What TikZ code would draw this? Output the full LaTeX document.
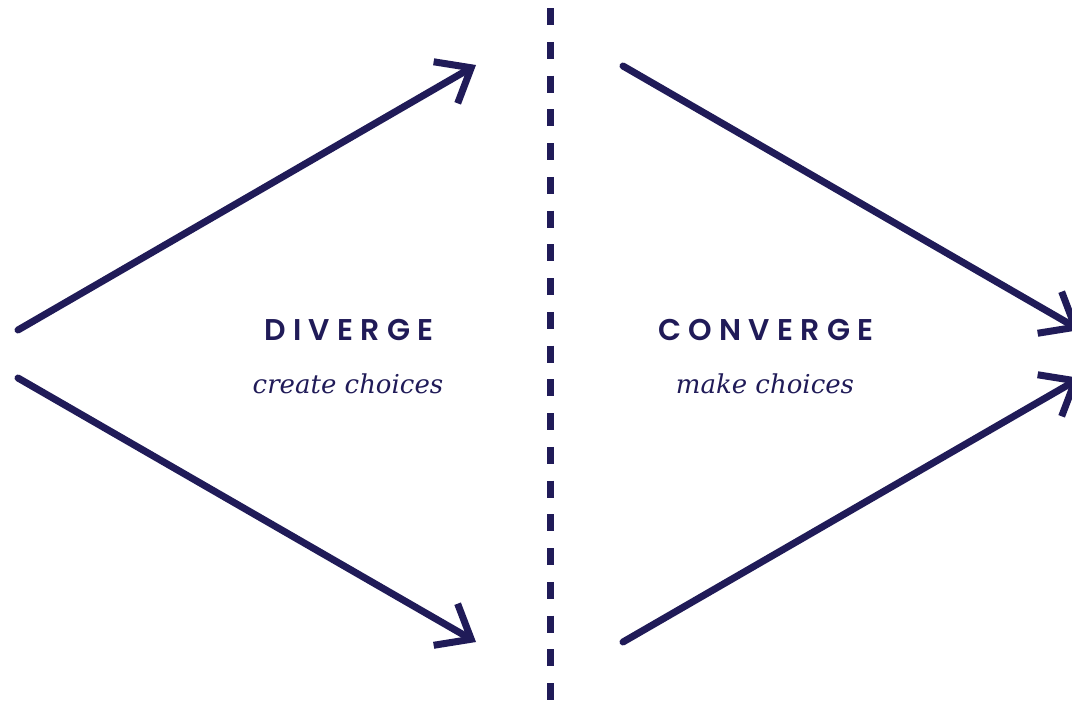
\documentclass[tikz,border=0pt]{standalone}
\usepackage{fontspec}
\usetikzlibrary{arrows.meta}
\newfontfamily\capsfont[LetterSpace=24]{Poppins SemiBold}
\newfontfamily\subfont{DejaVu Serif}
\definecolor{navy}{RGB}{32,27,88}
\begin{document}
\begin{tikzpicture}[x=1pt,y=-1pt,
  arr/.style={draw=navy, line width=7pt, line cap=round,
    -{Straight Barb[length=29.5pt,width=48pt,sharp]}},
  divider/.style={draw=navy, line width=7pt, line cap=butt, dash pattern=on 17pt off 16.75pt},
  title/.style={anchor=base, text=navy, inner sep=0pt, font=\capsfont\fontsize{30}{30}\selectfont},
  sub/.style={anchor=base, text=navy, inner sep=0pt, font=\subfont\itshape\fontsize{26}{26}\selectfont}]
\clip (0,0) rectangle (1072,702);
\fill[white] (0,0) rectangle (1072,702);
% left (diverge)
\coordinate (dsa) at (18,330);
\coordinate (dsb) at (18,378);
\coordinate (dta) at (476,65);
\coordinate (dtb) at (476,642);
\draw[arr] (dsa) -- (dta);
\draw[arr] (dsb) -- (dtb);
% right (converge)
\coordinate (csa) at (623,66);
\coordinate (csb) at (623,642);
\coordinate (cta) at (1080,330);
\coordinate (ctb) at (1080,378);
\draw[arr] (csa) -- (cta);
\draw[arr] (csb) -- (ctb);
% divider
\coordinate (vtop) at (550,8);
\coordinate (vbot) at (550,701);
\draw[divider] (vtop) -- (vbot);
% labels
\node[title] (div) at (349,340) {DIVERGE};
\node[title] (con) at (766,340) {CONVERGE};
\node[sub] (divs) at (348,393) {create choices};
\node[sub] (cons) at (765,393) {make choices};
\end{tikzpicture}
\end{document}
